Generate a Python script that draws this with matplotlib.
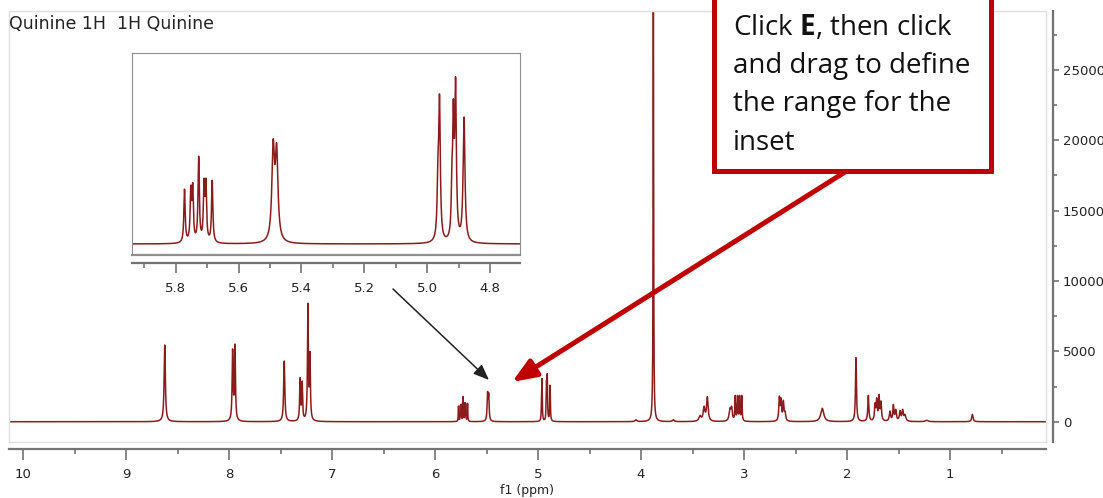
import numpy as np
import matplotlib.pyplot as plt
from matplotlib.patches import Rectangle, FancyArrowPatch

peak_ppm = [8.624, 7.965, 7.942, 7.464, 7.310, 7.290, 7.234, 7.214,
            5.772, 5.752, 5.746, 5.727, 5.710, 5.704, 5.684,
            5.490, 5.479,
            4.966, 4.961, 4.9215, 4.917, 4.910, 4.883,
            4.049, 3.880, 3.686,
            3.427, 3.388, 3.356,
            3.136, 3.120, 3.085, 3.063, 3.043, 3.022,
            2.657, 2.641, 2.618, 2.602,
            2.240, 1.913, 1.793,
            1.728, 1.712, 1.689, 1.670,
            1.583, 1.550, 1.527, 1.485, 1.460, 1.437,
            1.226, 0.783]
peak_height = [5450, 5170, 5520, 4310, 3130, 2890, 8420, 4980,
               1120, 1200, 1250, 1790, 1340, 1340, 1300,
               2140, 2060,
               1800, 3060, 1700, 2960, 3410, 2590,
               140, 31000, 140,
               450, 1100, 1780,
               1000, 1100, 1870, 1870, 1870, 1870,
               1820, 1700, 1520, 760,
               950, 4550, 1870,
               1350, 1700, 1940, 1470,
               760, 1230, 880, 800, 880, 520,
               100, 520]
peak_width = [0.014, 0.011, 0.011, 0.013, 0.010, 0.010, 0.010, 0.010,
              0.005, 0.005, 0.005, 0.005, 0.005, 0.005, 0.005,
              0.010, 0.010,
              0.006, 0.006, 0.005, 0.005, 0.006, 0.007,
              0.020, 0.006, 0.020,
              0.025, 0.020, 0.018,
              0.020, 0.015, 0.008, 0.008, 0.008, 0.008,
              0.012, 0.012, 0.012, 0.015,
              0.035, 0.011, 0.012,
              0.012, 0.012, 0.012, 0.012,
              0.015, 0.012, 0.015, 0.015, 0.015, 0.020,
              0.030, 0.015]

main_xticks = [10, 9, 8, 7, 6, 5, 4, 3, 2, 1]
main_yticks = [0, 5000, 10000, 15000, 20000, 25000]
inset_xticks = [5.8, 5.6, 5.4, 5.2, 5.0, 4.8]
title = 'Quinine 1H  1H Quinine'
callout = ['Click $\\mathbf{E}$, then click', 'and drag to define',
           'the range for the', 'inset']

W, H = 1103, 498
RED = '#8c1c1c'
AX_GRAY = '#737373'

plt.rcParams['mathtext.fontset'] = 'custom'
plt.rcParams['mathtext.rm'] = 'Open Sans'
plt.rcParams['mathtext.bf'] = 'Open Sans:bold'


def fx(x):
    return x / W


def fy(y):
    return 1 - y / H


def lorentz(x, c, w):
    return 1.0 / (1.0 + (2 * (x - c) / w) ** 2)


# amplitudes such that the summed lines hit the observed heights at each peak
c = np.array(peak_ppm)
w = np.array(peak_width)
A = lorentz(c[:, None], c[None, :], w[None, :])
amp = np.clip(np.linalg.solve(A, np.array(peak_height, float)), 0, None)

ppm = np.linspace(10.2, 0.0, 40001)
inten = (amp[None, :] * lorentz(ppm[:, None], c[None, :], w[None, :])).sum(axis=1)

fig = plt.figure(figsize=(W / 100, H / 100), dpi=100)

# main spectrum
ax = fig.add_axes([fx(9), fy(442), (1046 - 9) / W, (442 - 11) / H])
ax.plot(ppm, inten, color=RED, lw=1.1)
ax.set_xlim(10.136, 0.068)
ax.set_ylim(-1440, 29170)
ax.tick_params(which='both', bottom=False, left=False,
               labelbottom=False, labelleft=False)
for s in ax.spines.values():
    s.set_color('#e0e0e0')
    s.set_linewidth(1.0)

secx = ax.secondary_xaxis(-7 / 431)
secx.set_xticks(main_xticks)
secx.set_xticklabels([str(t) for t in main_xticks])
secx.set_xticks(np.arange(9.5, 0, -1.0), minor=True)
secx.spines['bottom'].set_color(AX_GRAY)
secx.spines['bottom'].set_linewidth(1.6)
secx.tick_params(which='major', length=8, width=1.2, color=AX_GRAY,
                 labelsize=9.5, pad=6, labelcolor='#222222')
secx.tick_params(which='minor', length=3.5, width=1.2, color=AX_GRAY)

secy = ax.secondary_yaxis(1 + 7 / 1037)
secy.set_yticks(main_yticks)
secy.set_yticklabels([str(t) for t in main_yticks])
secy.set_yticks(np.arange(2500, 29000, 5000), minor=True)
secy.spines['right'].set_color(AX_GRAY)
secy.spines['right'].set_linewidth(1.6)
secy.tick_params(which='major', length=4, width=1.2, color=AX_GRAY,
                 labelsize=9.5, pad=3, labelcolor='#222222')
secy.tick_params(which='minor', length=3, width=1.2, color=AX_GRAY)

fig.text(fx(9), fy(24), title, fontsize=12.5, va='center', color='#222222')
fig.text(fx(527), fy(490), 'f1 (ppm)', fontsize=9, ha='center', va='center',
         color='#222222')

# inset
ins = fig.add_axes([fx(131.7), fy(255), (520 - 131.7) / W, (255 - 53) / H])
m = (ppm < 6.0) & (ppm > 4.65)
ins.plot(ppm[m], inten[m], color=RED, lw=1.1)
ins.set_xlim(5.940, 4.705)
ins.set_ylim(-224, 3896)
ins.tick_params(which='both', bottom=False, left=False,
                labelbottom=False, labelleft=False)
for s in ins.spines.values():
    s.set_color('#8f8f8f')
    s.set_linewidth(0.8)
ins.spines['bottom'].set_linewidth(1.6)

isx = ins.secondary_xaxis(-8 / 202)
isx.set_xticks(inset_xticks)
isx.set_xticklabels(['%.1f' % t for t in inset_xticks])
isx.set_xticks([5.9, 5.7, 5.5, 5.3, 5.1, 4.9], minor=True)
isx.spines['bottom'].set_color(AX_GRAY)
isx.spines['bottom'].set_linewidth(1.6)
isx.tick_params(which='major', length=7, width=1.2, color=AX_GRAY,
                labelsize=9.5, pad=7, labelcolor='#222222')
isx.tick_params(which='minor', length=3.5, width=1.2, color=AX_GRAY)

# arrows
fig.add_artist(FancyArrowPatch((fx(393), fy(289)), (fx(489), fy(380)),
                               transform=fig.transFigure,
                               arrowstyle='-|>,head_length=0.95,head_width=0.38',
                               mutation_scale=10, lw=1.1, color='#222222',
                               shrinkA=0, shrinkB=0))
fig.add_artist(FancyArrowPatch((fx(845), fy(172)), (fx(512), fy(382)),
                               transform=fig.transFigure,
                               arrowstyle='-|>,head_length=0.9,head_width=0.36',
                               mutation_scale=16, lw=3.6, color='#c00000',
                               shrinkA=0, shrinkB=0))

# callout box
fig.add_artist(Rectangle((fx(713.5), fy(170.5)), (990.5 - 713.5) / W,
                         (170.5 + 20) / H, transform=fig.transFigure,
                         facecolor='white', edgecolor='#c00000', lw=3.6))
for i, line in enumerate(callout):
    fig.text(fx(733), fy(35 + 38.2 * i), line, fontsize=20,
             family='Open Sans', va='baseline', color='#111111')

fig.savefig('out.png', dpi=100)
